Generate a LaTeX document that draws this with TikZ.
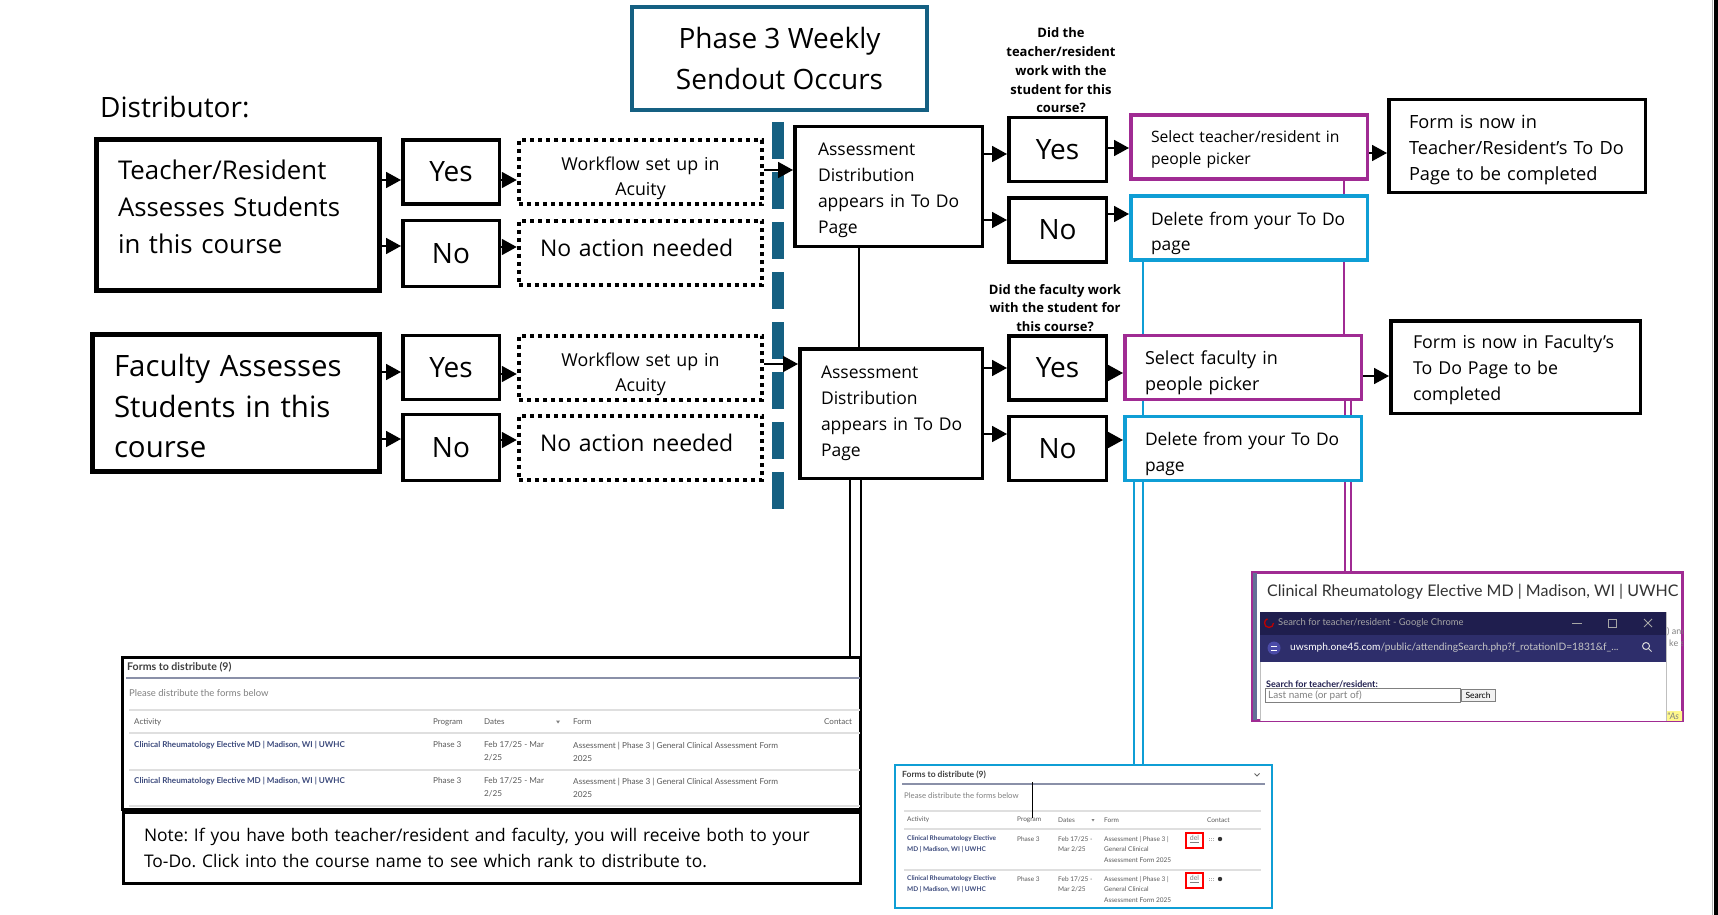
\documentclass[tikz,border=0pt]{standalone}
\usepackage{fontspec}
\setmainfont{Open Sans}
\newfontfamily\shotfont{Lato}
\usetikzlibrary{arrows.meta}
\pgfdeclarelayer{background}
\pgfsetlayers{background,main}
\definecolor{phaseblue}{HTML}{156082}
\definecolor{pickpurple}{HTML}{A02B93}
\definecolor{delblue}{HTML}{0F9ED5}
\definecolor{linknavy}{HTML}{3D4B7D}
\definecolor{chromenavy}{HTML}{1F1E4E}
\definecolor{urlnavy}{HTML}{2E2E6B}
\definecolor{iconblue}{HTML}{4B4BA8}
\definecolor{shotgray}{HTML}{5A5A5A}
\definecolor{ruleblue}{HTML}{8A90A8}
\newcommand{\fsz}[2]{\fontsize{#1pt}{#2pt}\selectfont}
\newcommand{\padtop}[1]{\rule{0pt}{#1}}
\newcommand{\padbot}[1]{\rule[-#1]{0pt}{#1}}
\frenchspacing

\begin{document}
\begin{tikzpicture}[x=1pt, y=-1pt,
  bigbox/.style={draw, line width=5pt, fill=white, align=left, font=\fsz{25.8}{37}},
  ynbox/.style={draw, line width=3.5pt, fill=white, minimum width=96.5pt, minimum height=64pt, font=\fsz{28}{30}},
  dotbox/.style={draw, line width=4pt, dash pattern=on 4pt off 4pt, fill=white, minimum width=243.5pt, minimum height=64pt},
  adbox/.style={draw, line width=3.5pt, fill=white, align=left, font=\fsz{17.5}{26}},
  qtext/.style={align=center, font=\bfseries\fsz{13}{18.7}},
  pickbox/.style={draw=pickpurple, line width=3.5pt, fill=white, minimum width=236.5pt, minimum height=64pt, text width=196pt, align=left, font=\fsz{18}{25.5}},
  delbox/.style={pickbox, draw=delblue, font=\fsz{17.4}{25.5}},
  formbox/.style={draw, line width=3.5pt, fill=white, minimum height=92.5pt, align=left, font=\fsz{18.2}{26}},
  arr/.style={-{Triangle[length=15pt,width=16pt]}, line width=1.8pt},
  link/.style={line width=2.5pt},
  shottxt/.style={inner sep=0pt, anchor=west, text=shotgray},
  rowsep/.style={draw=gray!25, line width=1.2pt}]

\useasboundingbox (0,0) rectangle (1718,915);

% distributor side
\node[anchor=west, inner sep=0pt, font=\fsz{28}{34}] (distlabel) at (100,107) {Distributor:};
\node[bigbox, minimum width=283pt, minimum height=151pt, text width=240pt] (tr) at (238,215) {Teacher/Resident\\Assesses Students\\in this course\padbot{17.5pt}};
\node[bigbox, minimum width=287pt, minimum height=137pt, text width=244pt, font=\fsz{29.4}{40.5}] (fac) at (236,403) {\padtop{29pt}Faculty Assesses\\Students in this\\course};

\node[ynbox] (yes1) at (451,172) {Yes};
\node[ynbox, minimum height=66pt] (no1) at (451,253.5) {No};
\node[ynbox] (yes2) at (451,367.5) {Yes};
\node[ynbox, minimum height=66pt] (no2) at (451,447.5) {No};

\node[dotbox, text width=220pt, align=center, font=\fsz{17.8}{25}] (wf1) at (640.5,172) {\padtop{26.5pt}Workflow set up in\\Acuity};
\node[dotbox, text width=201pt, align=left, font=\fsz{23}{26}] (na1) at (640.5,252.5) {No action needed\padbot{8.8pt}};
\node[dotbox, text width=220pt, align=center, font=\fsz{17.8}{25}] (wf2) at (640.5,367.5) {\padtop{26.5pt}Workflow set up in\\Acuity};
\node[dotbox, text width=201pt, align=left, font=\fsz{23}{26}] (na2) at (640.5,447.5) {No action needed\padbot{8.8pt}};

% weekly sendout
\node[draw=phaseblue, line width=4.5pt, fill=white, minimum width=295pt, minimum height=103pt, align=center, font=\fsz{28}{41}] (phase) at (779.5,58.5) {Phase 3 Weekly\\Sendout Occurs};
\coordinate (divtop) at (778,122);
\coordinate (divbot) at (778,512);
\draw[phaseblue, line width=12pt, dash pattern=on 37pt off 13pt] (divtop) -- (divbot);

\node[adbox, minimum width=187.5pt, minimum height=119.5pt, text width=141pt] (ad1) at (888.5,186.5) {\padtop{20.3pt}Assessment\\Distribution\\\mbox{appears in To Do}\\Page};
\node[adbox, minimum width=182.5pt, minimum height=129.5pt, text width=140pt] (ad2) at (891,413.5) {Assessment\\Distribution\\\mbox{appears in To Do}\\Page};

% second decision
\node[qtext] (q1) at (1061,70.5) {Did the\\teacher/resident\\work with the\\student for this\\course?};
\node[qtext] (q2) at (1055,308) {Did the faculty work\\with the student for\\this course?};
\node[ynbox, minimum width=97.5pt] (yes3) at (1057.5,149.5) {Yes};
\node[ynbox, minimum width=97.5pt] (no3) at (1057.5,230) {No};
\node[ynbox, minimum width=97.5pt] (yes4) at (1057.5,368) {Yes};
\node[ynbox, minimum width=97.5pt] (no4) at (1057.5,448.5) {No};

\node[pickbox, font=\fsz{15.7}{22}] (seltr) at (1249,147) {\padtop{16.3pt}\mbox{Select teacher/resident in}\\people picker};
\node[delbox] (del1) at (1249,228) {\padtop{24.2pt}\mbox{Delete from your To Do}\\page};
\node[pickbox] (selfac) at (1243,367.5) {\padtop{24.7pt}Select faculty in\\people picker};
\node[delbox] (del2) at (1243,448.5) {\padtop{24.2pt}\mbox{Delete from your To Do}\\page};

\node[formbox, minimum width=256.5pt, text width=216pt] (formtr) at (1517,146) {\padtop{20.4pt}Form is now in\\\mbox{Teacher/Resident’s To Do}\\Page to be completed};
\node[formbox, minimum width=249.5pt, text width=205pt, font=\fsz{17.8}{26}] (formfac) at (1515.5,367) {\padtop{20pt}\mbox{Form is now in Faculty’s}\\To Do Page to be\\completed};

% screenshots
\node[draw, line width=3pt, fill=white, minimum width=738pt, minimum height=152pt] (shot1) at (491.5,733.5) {};
\node[draw, line width=3pt, fill=white, minimum width=737pt, minimum height=71pt, text width=696pt, align=left, font=\fsz{17.4}{26}] (note) at (492,848) {Note: If you have both teacher/resident and faculty, you will receive both to your\\To-Do. Click into the course name to see which rank to distribute to.};
\node[draw=delblue, line width=2.5pt, fill=white, minimum width=377pt, minimum height=143pt] (shot2) at (1083.5,836.5) {};
\node[draw=pickpurple, line width=3pt, fill=white, minimum width=430pt, minimum height=148pt] (shot3) at (1467.5,646.5) {};

% forms list (black)
\node[shottxt, font=\shotfont\bfseries\fsz{10.6}{12}, text=black!75] (s1title) at (127,667) {Forms to distribute (9)};
\draw[ruleblue, line width=2pt] (126,678) -- (860,678);
\node[shottxt, font=\shotfont\fsz{9.5}{11}, text=gray] (s1hint) at (129,693) {Please distribute the forms below};
\draw[rowsep] (129,710) -- (860,710);
\foreach \hx/\hname/\htext in {134/act/Activity, 433/prog/Program, 484/dates/Dates, 573/form/Form, 824/cont/Contact}
  \node[shottxt, font=\shotfont\fsz{8}{9}] (s1h\hname) at (\hx,722) {\htext};
\fill[gray] (556,720.5) -- (560,720.5) -- (558,723.5) -- cycle;
\draw[rowsep] (129,733) -- (860,733);
\foreach \r/\ry in {1/745, 2/781} {
  \node[shottxt, font=\shotfont\bfseries\fsz{8.1}{13}, text=linknavy] (s1act\r) at (134,\ry) {Clinical Rheumatology Elective MD | Madison, WI | UWHC};
  \node[shottxt, font=\shotfont\fsz{8.2}{13}] (s1prog\r) at (433,\ry) {Phase 3};
  \node[shottxt, font=\shotfont\fsz{8.2}{13}, align=left] (s1dates\r) at (484,\ry+6.5) {Feb 17/25 - Mar\\2/25};
  \node[shottxt, font=\shotfont\fsz{8.2}{13}, align=left] (s1form\r) at (573,\ry+6.5) {Assessment | Phase 3 | General Clinical Assessment Form\\2025};
  \draw[rowsep] (129,\ry+25) -- (860,\ry+25);
}

% forms list (blue)
\node[shottxt, font=\shotfont\bfseries\fsz{8.5}{9}, text=black!75] (s2title) at (902,775) {Forms to distribute (9)};
\draw[gray!80!black, line width=0.9pt] (1254.5,773.5) -- (1257,776) -- (1259.5,773.5);
\draw[ruleblue, line width=1.5pt] (902,784) -- (1265,784);
\node[shottxt, font=\shotfont\fsz{7.8}{9}, text=gray] (s2hint) at (904,796) {Please distribute the forms below};
\draw[rowsep] (904,811) -- (1261,811);
\foreach \hx/\hname/\htext in {907/act/Activity, 1017/prog/Program, 1058/dates/Dates, 1104/form/Form, 1207/cont/Contact}
  \node[shottxt, font=\shotfont\fsz{6.5}{8}] (s2h\hname) at (\hx,820) {\htext};
\fill[gray] (1091.5,819) -- (1094.5,819) -- (1093,821.5) -- cycle;
\draw[rowsep] (904,829) -- (1261,829);
\foreach \r/\ry in {1/839, 2/879} {
  \node[shottxt, font=\shotfont\bfseries\fsz{6.5}{10.5}, text=linknavy, align=left] (s2act\r) at (907,\ry+5.25) {Clinical Rheumatology Elective\\MD | Madison, WI | UWHC};
  \node[shottxt, font=\shotfont\fsz{6.5}{10.5}] (s2prog\r) at (1017,\ry) {Phase 3};
  \node[shottxt, font=\shotfont\fsz{6.5}{10.5}, align=left] (s2dates\r) at (1058,\ry+5.25) {Feb 17/25 -\\Mar 2/25};
  \node[shottxt, font=\shotfont\fsz{6.5}{10.5}, align=left] (s2form\r) at (1104,\ry+10.5) {Assessment | Phase 3 |\\General Clinical\\Assessment Form 2025};
  \draw[red, line width=1.5pt] (1186,\ry-6) rectangle (1203,\ry+9);
  \node[inner sep=0pt, font=\shotfont\fsz{7}{8}, text=gray] (s2del\r) at (1194.5,\ry) {\underline{del}};
  \draw[gray!60, line width=0.8pt, dash pattern=on 1pt off 1pt] (1209,\ry-0.5) -- (1215,\ry-0.5) (1209,\ry+1.5) -- (1215,\ry+1.5);
  \fill[black!80] (1220,\ry) circle (2.2);
}
\draw[rowsep] (904,870) -- (1261,870);
\draw[black, line width=0.8pt] (1032,782) -- (1032,818);

% people picker (purple)
\begin{scope}
  \clip (1253,573) rectangle (1682,720);
  \fill[linknavy!80] (1253,573) rectangle (1257,720);
  \node[shottxt, font=\shotfont\fsz{16}{18}, text=black!80] (s3title) at (1267,592) {Clinical Rheumatology Elective MD | Madison, WI | UWHC};
  \node[shottxt, font=\shotfont\fsz{9}{10}, text=gray] (s3snipa) at (1667,632) {) and};
  \node[shottxt, font=\shotfont\fsz{9}{10}, text=gray] (s3snipb) at (1669,643) {ke s};
  \fill[yellow!45] (1666,711) rectangle (1684,722);
  \node[shottxt, font=\shotfont\itshape\fsz{9}{10}, text=gray] (s3snipc) at (1667,716) {"As};
  \draw[gray!50, fill=white, line width=0.8pt] (1260,612) rectangle (1666,730);
  \fill[chromenavy] (1260,612) rectangle (1666,635);
  \fill[urlnavy] (1260,635) rectangle (1666,662);
  \draw[red!75!black, line width=1.3pt] (1273.5,623) arc[start angle=0, end angle=250, radius=4.5];
  \node[shottxt, font=\shotfont\fsz{9.4}{10}, text=gray!70] (s3wintitle) at (1278,623) {Search for teacher/resident - Google Chrome};
  \draw[gray!70, line width=0.8pt] (1572,623) -- (1582,623);
  \draw[gray!70, line width=0.8pt] (1608,619) rectangle (1616,627);
  \draw[gray!70, line width=0.8pt] (1644,619) -- (1652,627) (1644,627) -- (1652,619);
  \fill[iconblue] (1274,648) circle (6.5);
  \draw[white, line width=0.7pt] (1271,646) -- (1277,646) (1271,650) -- (1277,650);
  \node[shottxt, font=\shotfont\fsz{10.2}{11}, text=white] (s3url) at (1290,648) {uwsmph.one45.com\textcolor{gray!45}{/public/attendingSearch.php?f\_rotationID=1831\&f\_...}};
  \draw[gray!30, line width=1pt] (1646,646) circle (3.5) (1648.5,648.5) -- (1651.5,651.5);
  \node[shottxt, font=\shotfont\bfseries\fsz{9}{10}, text=chromenavy] (s3label) at (1266,684) {Search for teacher/resident:};
  \draw[gray, line width=0.8pt] (1265,688) rectangle (1460,702);
  \node[shottxt, font=\shotfont\fsz{10}{11}, text=gray] (s3input) at (1268,695) {Last name (or part of)};
  \draw[gray, fill=gray!10, line width=0.8pt] (1461,689) rectangle (1495,701);
  \node[inner sep=0pt, font=\shotfont\fsz{8.5}{9}] (s3btn) at (1478,695) {Search};
\end{scope}

% connectors
\begin{pgfonlayer}{background}
  \draw[link] (ad1.south -| 859,0) -- (ad2.north -| 859,0);
  \foreach \lx in {850,861}
    \draw[link] (ad2.south -| \lx,0) -- (shot1.north -| \lx,0);
  \draw[link, delblue] (del1.south -| 1143,0) -- (del2.north -| 1143,0);
  \foreach \lx in {1134,1143}
    \draw[link, delblue] (del2.south -| \lx,0) -- (shot2.north -| \lx,0);
  \draw[link, pickpurple] (seltr.south -| 1344,0) -- (selfac.north -| 1344,0);
  \foreach \lx in {1345,1351}
    \draw[link, pickpurple] (selfac.south -| \lx,0) -- (shot3.north -| \lx,0);
\end{pgfonlayer}

\draw[arr] (tr.east |- 0,180) -- (yes1.west |- 0,180);
\draw[arr] (tr.east |- 0,246) -- (no1.west |- 0,246);
\draw[arr] (yes1.east |- 0,180) -- (wf1.west |- 0,180);
\draw[arr] (no1.east |- 0,247) -- (na1.west |- 0,247);
\draw[arr] (wf1.east |- 0,170) -- (ad1.west |- 0,170);
\draw[arr] (fac.east |- 0,372) -- (yes2.west |- 0,372);
\draw[arr] (fac.east |- 0,439) -- (no2.west |- 0,439);
\draw[arr] (yes2.east |- 0,374) -- (wf2.west |- 0,374);
\draw[arr] (no2.east |- 0,440) -- (na2.west |- 0,440);
\draw[arr] (wf2.east |- 0,364) -- (ad2.west |- 0,364);
\draw[arr] (ad1.east |- 0,154) -- (yes3.west |- 0,154);
\draw[arr] (ad1.east |- 0,220) -- (no3.west |- 0,220);
\draw[arr] (yes3.east |- 0,148) -- (seltr.west |- 0,148);
\draw[arr] (no3.east |- 0,214) -- (del1.west |- 0,214);
\draw[arr] (seltr.east |- 0,153) -- (formtr.west |- 0,153);
\draw[arr] (ad2.east |- 0,368) -- (yes4.west |- 0,368);
\draw[arr] (ad2.east |- 0,434) -- (no4.west |- 0,434);
\draw[arr] (yes4.east |- 0,373) -- (selfac.west |- 0,373);
\draw[arr] (no4.east |- 0,440) -- (del2.west |- 0,440);
\draw[arr] (selfac.east |- 0,376) -- (formfac.west |- 0,376);

% page edge
\draw[gray!60, line width=1pt] (1712.5,0) -- (1712.5,915);
\fill[black] (1714,0) rectangle (1718,915);
\end{tikzpicture}
\end{document}
